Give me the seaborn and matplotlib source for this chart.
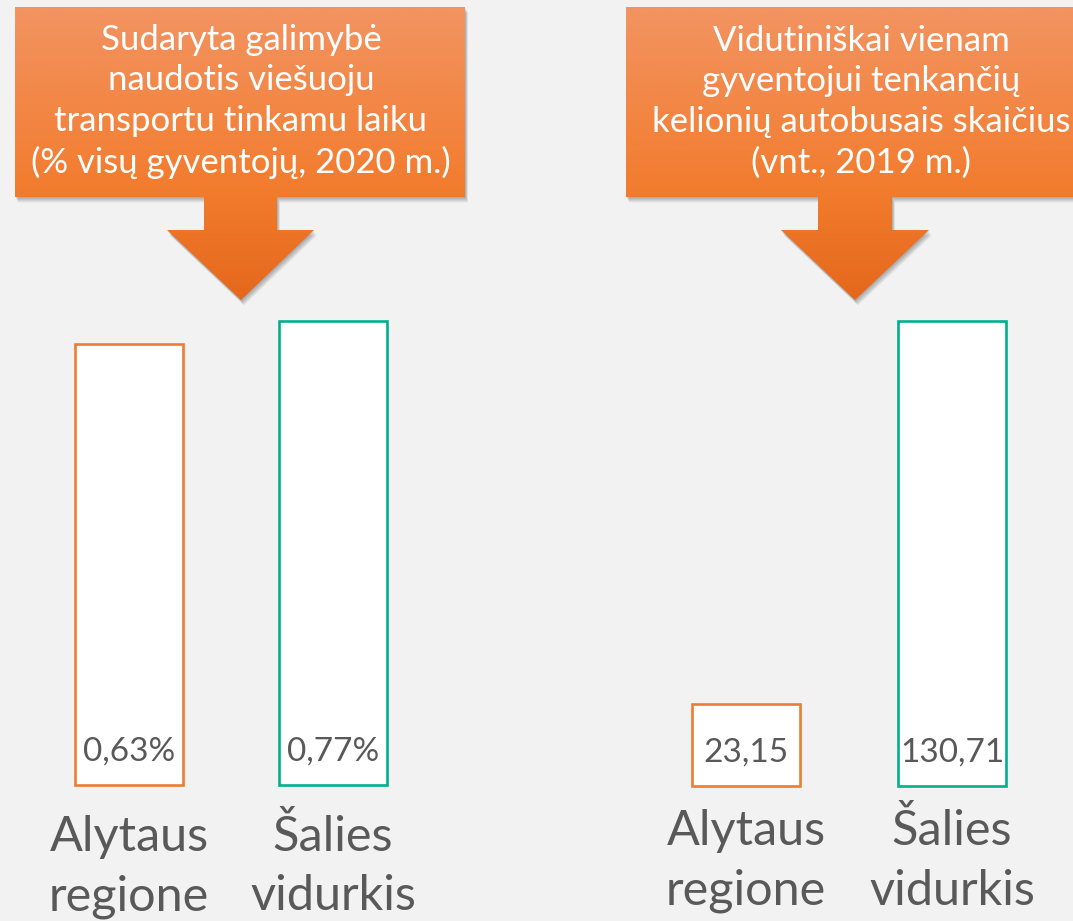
import matplotlib
matplotlib.use("Agg")
import matplotlib.pyplot as plt
import seaborn as sns
import numpy as np
import pandas as pd
from matplotlib.patches import Polygon
from matplotlib.colors import to_rgb

# ---------------- data ----------------
categories = ["Alytaus\nregione", "Šalies\nvidurkis"]
left_values = [0.63, 0.77]
left_labels = ["0,63%", "0,77%"]
right_values = [23.15, 130.71]
right_labels = ["23,15", "130,71"]
left_title = "Sudaryta galimybė\nnaudotis viešuoju\ntransportu tinkamu laiku\n(% visų gyventojų, 2020 m.)"
right_title = "Vidutiniškai vienam\ngyventojui tenkančių\nkelionių autobusais skaičius\n(vnt., 2019 m.)"

# ---------------- style ----------------
W, H, DPI = 1073, 921, 100
BG = "#F2F2F2"
ORANGE = "#ED7D31"
TEAL = "#00B08C"
TEXT = "#595959"
LEFT_BASE = -2.05   # visual baseline of the left panel (bars in the source are not zero-based)

sns.set_theme(style="white")
plt.rcParams["font.family"] = ["Lato", "DejaVu Sans"]

fig = plt.figure(figsize=(W / DPI, H / DPI), dpi=DPI, facecolor=BG)


def px_axes(x0, x1, ytop, ybot, **kw):
    return fig.add_axes([x0 / W, 1 - ybot / H, (x1 - x0) / W, (ybot - ytop) / H], **kw)


# ---------------- callouts (overlay in pixel coords) ----------------
ov = fig.add_axes([0, 0, 1, 1], zorder=0)
ov.set_xlim(0, W)
ov.set_ylim(H, 0)
ov.axis("off")

grad_stops = [(0.0, "#F29462"), (0.62, "#F27C2E"), (1.0, "#E4681C")]


def callout(x0, x1, y0, y1, sx0, sx1, hy, hx0, hx1, tx, ty, text, tcx):
    verts = [(x0, y0), (x1, y0), (x1, y1), (sx1, y1), (sx1, hy), (hx1, hy), (tx, ty),
             (hx0, hy), (sx0, hy), (sx0, y1), (x0, y1)]
    # soft shadow
    for d in range(1, 7):
        sv = [(x + d * 0.5, y + d * 0.9) for x, y in verts]
        ov.add_patch(Polygon(sv, closed=True, facecolor="black", edgecolor="none",
                             alpha=0.055, zorder=1))
    poly = Polygon(verts, closed=True, facecolor="none", edgecolor="none", zorder=2)
    ov.add_patch(poly)
    n = 256
    t = np.linspace(0, 1, n)
    pos = [s[0] for s in grad_stops]
    cols = np.array([to_rgb(s[1]) for s in grad_stops])
    grad = np.stack([np.interp(t, pos, cols[:, k]) for k in range(3)], axis=-1)[:, None, :]
    im = ov.imshow(grad, extent=(x0, x1, ty, y0), aspect="auto", origin="upper",
                   zorder=2, interpolation="bilinear")
    im.set_clip_path(poly)
    ov.set_xlim(0, W)
    ov.set_ylim(H, 0)
    # va="baseline" anchors the last line's baseline
    ov.text(tcx, 173, text, ha="center", va="baseline", color="white", fontsize=25,
            linespacing=1.33, zorder=3)


callout(15, 465, 7, 197, 204, 277, 230, 167, 314, 241, 300, left_title, 241)
callout(626, 1100, 7, 197, 818, 892, 230, 781, 929, 855, 300, right_title, 861)


# ---------------- bars ----------------
def bar_panel(ax, values, labels, base, width, pad):
    df = pd.DataFrame({"cat": categories, "val": values})
    sns.barplot(data=df, x="cat", y="val", hue="cat", palette=[ORANGE, TEAL],
                legend=False, ax=ax, width=width, saturation=1)
    for p, c, v in zip(ax.patches, [ORANGE, TEAL], values):
        p.set_facecolor("white")
        p.set_edgecolor(c)
        p.set_linewidth(1.9)
        p.set_clip_on(False)
        p.set_y(base)
        p.set_height(v - base)
    ax.set_ylim(base, max(values))
    ax.set_xlim(-0.5, 1.5)
    for i, lab in enumerate(labels):
        ax.annotate(lab, xy=(i, base), xytext=(0, 33), textcoords="offset pixels",
                    ha="center", va="center", fontsize=24, color=TEXT)
    ax.set_xticks([0, 1])
    ax.set_xticklabels(categories, fontsize=35, color=TEXT, va="baseline",
                       linespacing=1.43)
    ax.tick_params(axis="x", length=0, pad=pad)
    ax.set_yticks([])
    ax.set_xlabel("")
    ax.set_ylabel("")
    ax.set_facecolor("none")
    for s in ax.spines.values():
        s.set_visible(False)


axL = px_axes(27, 435, 321, 785, zorder=1)
bar_panel(axL, left_values, left_labels, LEFT_BASE, 0.53, 90)

axR = px_axes(643, 1055, 321, 786, zorder=1)
bar_panel(axR, right_values, right_labels, 0.0, 0.524, 85.5)

fig.savefig("out.png", dpi=DPI, facecolor=BG)
